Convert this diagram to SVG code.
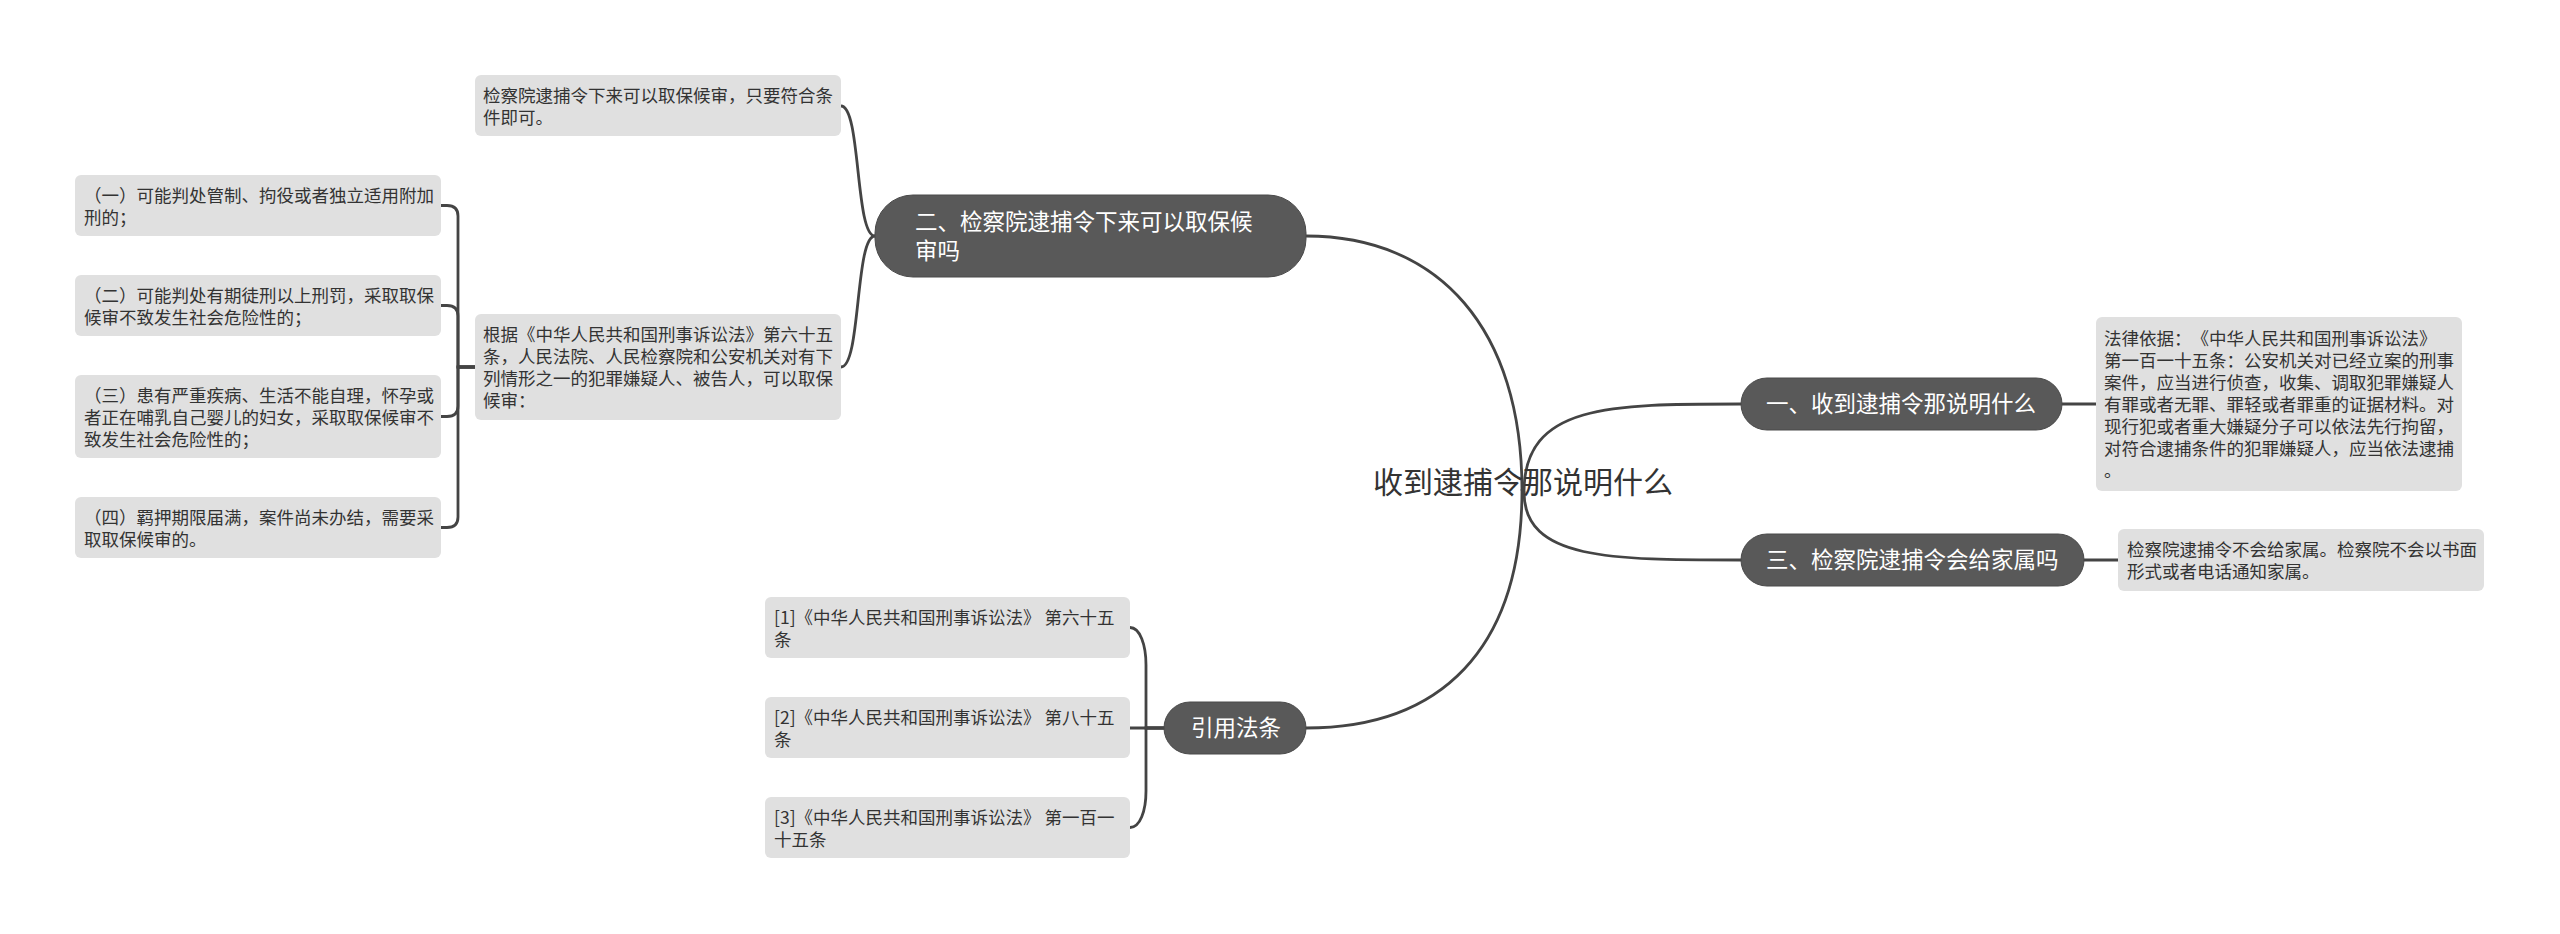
<svg xmlns="http://www.w3.org/2000/svg" width="2560" height="934" viewBox="0 0 2560 934">
<style>
.bg{fill:#ffffff}
.conn{fill:none;stroke:#444444;stroke-width:2.8;stroke-linecap:round}
.node{fill:#595959;stroke:#4a4a4a;stroke-width:1}
.box{fill:#e0e0e0}
text{text-spacing-trim:space-all;font-feature-settings:"chws" 0,"halt" 0}
.nt{font-family:"Noto Sans CJK SC","Noto Sans",sans-serif;font-size:22.5px;fill:#ffffff}
.bt{font-family:"Noto Sans CJK SC","Noto Sans",sans-serif;font-size:17.5px;fill:#333333}
.ct{font-family:"Noto Sans CJK SC","Noto Sans",sans-serif;font-size:30px;fill:#333333}
</style>
<rect class="bg" x="0" y="0" width="2560" height="934"/>
<g id="connectors">
<path class="conn" d="M1522,490 C1522,330 1440,236 1306,236"/>
<path class="conn" d="M1522,490 C1522,650 1440,728 1306,728"/>
<path class="conn" d="M1524,492 C1524,404 1610,404 1741,404"/>
<path class="conn" d="M1524,492 C1524,560 1610,560 1741,560"/>
<path class="conn" d="M2062,404 H2096"/>
<path class="conn" d="M2084,560 H2118"/>
<path class="conn" d="M875,236 C855,236 861,106 841,106"/>
<path class="conn" d="M875,236 C855,236 861,367 841,367"/>
<path class="conn" d="M475,367 H458 V216 Q458,205.5 447,205.5 H441"/>
<path class="conn" d="M475,367 H458 V316 Q458,305.5 447,305.5 H441"/>
<path class="conn" d="M475,367 H458 V406 Q458,416.5 447,416.5 H441"/>
<path class="conn" d="M475,367 H458 V517 Q458,527.5 447,527.5 H441"/>
<path class="conn" d="M1164,728 H1146 V665 C1146,645 1140,627.5 1130,627.5"/>
<path class="conn" d="M1164,728 H1130"/>
<path class="conn" d="M1164,728 H1146 V791 C1146,811 1140,827.5 1130,827.5"/>
</g>
<g id="root">
<text class="ct" x="1523" y="493" text-anchor="middle">收到逮捕令那说明什么</text>
</g>
<g id="n1">
<rect class="node" x="1741" y="378" width="321" height="52" rx="26"/>
<text class="nt" x="1766" y="412">一、收到逮捕令那说明什么</text>
</g>
<g id="n1-law">
<rect class="box" x="2096" y="317" width="366" height="174" rx="6"/>
<text class="bt" x="2104" y="345">法律依据：《中华人民共和国刑事诉讼法》</text>
<text class="bt" x="2104" y="367">第一百一十五条：公安机关对已经立案的刑事</text>
<text class="bt" x="2104" y="389">案件，应当进行侦查，收集、调取犯罪嫌疑人</text>
<text class="bt" x="2104" y="411">有罪或者无罪、罪轻或者罪重的证据材料。对</text>
<text class="bt" x="2104" y="433">现行犯或者重大嫌疑分子可以依法先行拘留，</text>
<text class="bt" x="2104" y="455">对符合逮捕条件的犯罪嫌疑人，应当依法逮捕</text>
<text class="bt" x="2104" y="477">。</text>
</g>
<g id="n3">
<rect class="node" x="1741" y="534" width="343" height="52" rx="26"/>
<text class="nt" x="1766" y="568">三、检察院逮捕令会给家属吗</text>
</g>
<g id="n3-a">
<rect class="box" x="2118" y="529" width="366" height="62" rx="6"/>
<text class="bt" x="2127" y="556">检察院逮捕令不会给家属。检察院不会以书面</text>
<text class="bt" x="2127" y="578">形式或者电话通知家属。</text>
</g>
<g id="n2">
<rect class="node" x="875" y="195" width="431" height="82" rx="38"/>
<text class="nt" x="915" y="230">二、检察院逮捕令下来可以取保候</text>
<text class="nt" x="915" y="259">审吗</text>
</g>
<g id="n2-a">
<rect class="box" x="475" y="75" width="366" height="61" rx="6"/>
<text class="bt" x="483" y="102">检察院逮捕令下来可以取保候审，只要符合条</text>
<text class="bt" x="483" y="124">件即可。</text>
</g>
<g id="n2-b">
<rect class="box" x="475" y="314" width="366" height="106" rx="6"/>
<text class="bt" x="483" y="341">根据《中华人民共和国刑事诉讼法》第六十五</text>
<text class="bt" x="483" y="363">条，人民法院、人民检察院和公安机关对有下</text>
<text class="bt" x="483" y="385">列情形之一的犯罪嫌疑人、被告人，可以取保</text>
<text class="bt" x="483" y="407">候审：</text>
</g>
<g id="c1">
<rect class="box" x="75" y="175" width="366" height="61" rx="6"/>
<text class="bt" x="84" y="202">（一）可能判处管制、拘役或者独立适用附加</text>
<text class="bt" x="84" y="224">刑的；</text>
</g>
<g id="c2">
<rect class="box" x="75" y="275" width="366" height="61" rx="6"/>
<text class="bt" x="84" y="302">（二）可能判处有期徒刑以上刑罚，采取取保</text>
<text class="bt" x="84" y="324">候审不致发生社会危险性的；</text>
</g>
<g id="c3">
<rect class="box" x="75" y="375" width="366" height="83" rx="6"/>
<text class="bt" x="84" y="402">（三）患有严重疾病、生活不能自理，怀孕或</text>
<text class="bt" x="84" y="424">者正在哺乳自己婴儿的妇女，采取取保候审不</text>
<text class="bt" x="84" y="446">致发生社会危险性的；</text>
</g>
<g id="c4">
<rect class="box" x="75" y="497" width="366" height="61" rx="6"/>
<text class="bt" x="84" y="524">（四）羁押期限届满，案件尚未办结，需要采</text>
<text class="bt" x="84" y="546">取取保候审的。</text>
</g>
<g id="n4">
<rect class="node" x="1164" y="702" width="142" height="52" rx="26"/>
<text class="nt" x="1191" y="736">引用法条</text>
</g>
<g id="r1">
<rect class="box" x="765" y="597" width="365" height="61" rx="6"/>
<text class="bt" x="774" y="624">[1]《中华人民共和国刑事诉讼法》 第六十五</text>
<text class="bt" x="774" y="646">条</text>
</g>
<g id="r2">
<rect class="box" x="765" y="697" width="365" height="61" rx="6"/>
<text class="bt" x="774" y="724">[2]《中华人民共和国刑事诉讼法》 第八十五</text>
<text class="bt" x="774" y="746">条</text>
</g>
<g id="r3">
<rect class="box" x="765" y="797" width="365" height="61" rx="6"/>
<text class="bt" x="774" y="824">[3]《中华人民共和国刑事诉讼法》 第一百一</text>
<text class="bt" x="774" y="846">十五条</text>
</g>
</svg>
